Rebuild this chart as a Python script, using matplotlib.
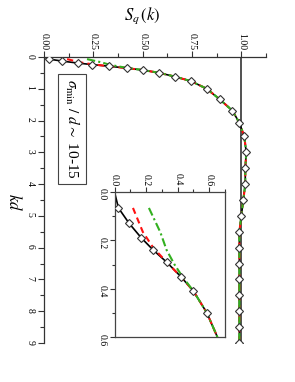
import matplotlib
matplotlib.use("Agg")
import matplotlib.pyplot as plt
from matplotlib.ticker import MultipleLocator

plt.rcParams['font.family'] = ['Liberation Serif', 'DejaVu Serif']
plt.rcParams['mathtext.fontset'] = 'stix'

# structure factor S_q(k) against kd (figure is drawn turned by 90 degrees)
kd_mark = [0.066, 0.13, 0.19, 0.24, 0.29, 0.35, 0.41, 0.50, 0.62, 0.76, 1.00,
           1.33, 1.69, 2.07, 2.5, 3.0, 3.5, 4.0, 4.5, 5.0, 5.5, 6.0, 6.5, 7.0,
           7.5, 8.0, 8.5, 9.0]
s_mark = [0.025, 0.093, 0.17, 0.245, 0.33, 0.42, 0.50, 0.585, 0.665, 0.745,
          0.825, 0.89, 0.955, 0.99, 1.015, 1.025, 1.02, 1.02, 1.01, 1.00, 0.99,
          0.99, 0.99, 0.99, 0.99, 0.99, 0.99, 0.99]

kd_black = [0.0] + kd_mark
s_black = [0.0] + s_mark

kd_red = [0.066, 0.166, 0.23] + kd_mark[4:]
s_red = [0.117, 0.18, 0.245] + s_mark[4:]

kd_green = [0.066, 0.166, 0.24, 0.30, 0.35] + kd_mark[6:]
s_green = [0.218, 0.29, 0.33, 0.38, 0.43] + s_mark[6:]

RED = '#ff1010'
GREEN = '#33b020'

fig = plt.figure(figsize=(2.95, 3.82), dpi=100)


def draw(ax):
    ax.plot(s_black, kd_black, color='black', lw=1.2, zorder=2)
    ax.plot(s_red, kd_red, color=RED, lw=1.5, ls=(0, (3, 2)), zorder=3)
    ax.plot(s_green, kd_green, color=GREEN, lw=1.5, ls=(0, (4, 1.5, 1, 1.5)), zorder=4)
    ax.plot(s_mark, kd_mark, ls='none', marker='D', ms=4, mfc='white',
            mec='#333333', mew=0.8, zorder=5)


# main axes
ax = fig.add_axes([44/295, 1-343/382, 222/295, 286/382])
draw(ax)
ax.axvline(1.0, color='#333333', lw=1.2, zorder=1)
ax.set_xlim(0, 1.125)
ax.set_ylim(9, 0)
ax.spines['right'].set_visible(False)
ax.spines['bottom'].set_visible(False)
ax.xaxis.tick_top()
ax.xaxis.set_major_locator(MultipleLocator(0.25))
ax.xaxis.set_minor_locator(MultipleLocator(0.125))
ax.yaxis.set_major_locator(MultipleLocator(1))
ax.yaxis.set_minor_locator(MultipleLocator(0.5))
ax.set_xticks([0, 0.25, 0.5, 0.75, 1.0])
ax.set_xticklabels(['0.00', '0.25', '0.50', '0.75', '1.00'])
ax.tick_params(which='both', direction='out', color='#333333', width=0.8)
ax.tick_params(which='major', length=4)
ax.tick_params(which='minor', length=3)
ax.tick_params(axis='x', labelsize=7, pad=1, labelrotation=-90)
ax.tick_params(axis='y', labelsize=7, pad=3, labelrotation=-90)
for sp in ax.spines.values():
    sp.set_color('#333333')
    sp.set_linewidth(0.9)

fig.text(142/295, 1-16/382, r'$S_q\,(k)$', fontsize=12, ha='center', va='center')
fig.text(13/295, 1-202/382, r'$kd$', fontsize=12, ha='center', va='center',
         rotation=-90)
fig.text(72/295, 1-129/382, r'$\sigma_{\rm min}\ /\ d \sim$ 10-15', fontsize=11,
         ha='center', va='center', rotation=-90,
         bbox=dict(boxstyle='square,pad=0.35', fc='white', ec='#444444', lw=0.8))

# inset
ins = fig.add_axes([114.5/295, 1-337/382, 110.5/295, 145/382])
draw(ins)
ins.set_xlim(0, 0.70)
ins.set_ylim(0.6, 0)
ins.xaxis.tick_top()
ins.xaxis.set_major_locator(MultipleLocator(0.2))
ins.xaxis.set_minor_locator(MultipleLocator(0.1))
ins.yaxis.set_major_locator(MultipleLocator(0.2))
ins.yaxis.set_minor_locator(MultipleLocator(0.1))
ins.xaxis.set_major_formatter(lambda v, p: '%.1f' % v)
ins.yaxis.set_major_formatter(lambda v, p: '%.1f' % v)
ins.tick_params(which='both', direction='out', color='#333333', width=0.8)
ins.tick_params(which='major', length=3.5)
ins.tick_params(which='minor', length=2.5)
ins.tick_params(axis='x', labelsize=7, pad=1, labelrotation=-90)
ins.tick_params(axis='y', labelsize=7, pad=2, labelrotation=-90)
for sp in ins.spines.values():
    sp.set_color('#444444')
    sp.set_linewidth(0.9)

fig.savefig('out.png', dpi=100)
